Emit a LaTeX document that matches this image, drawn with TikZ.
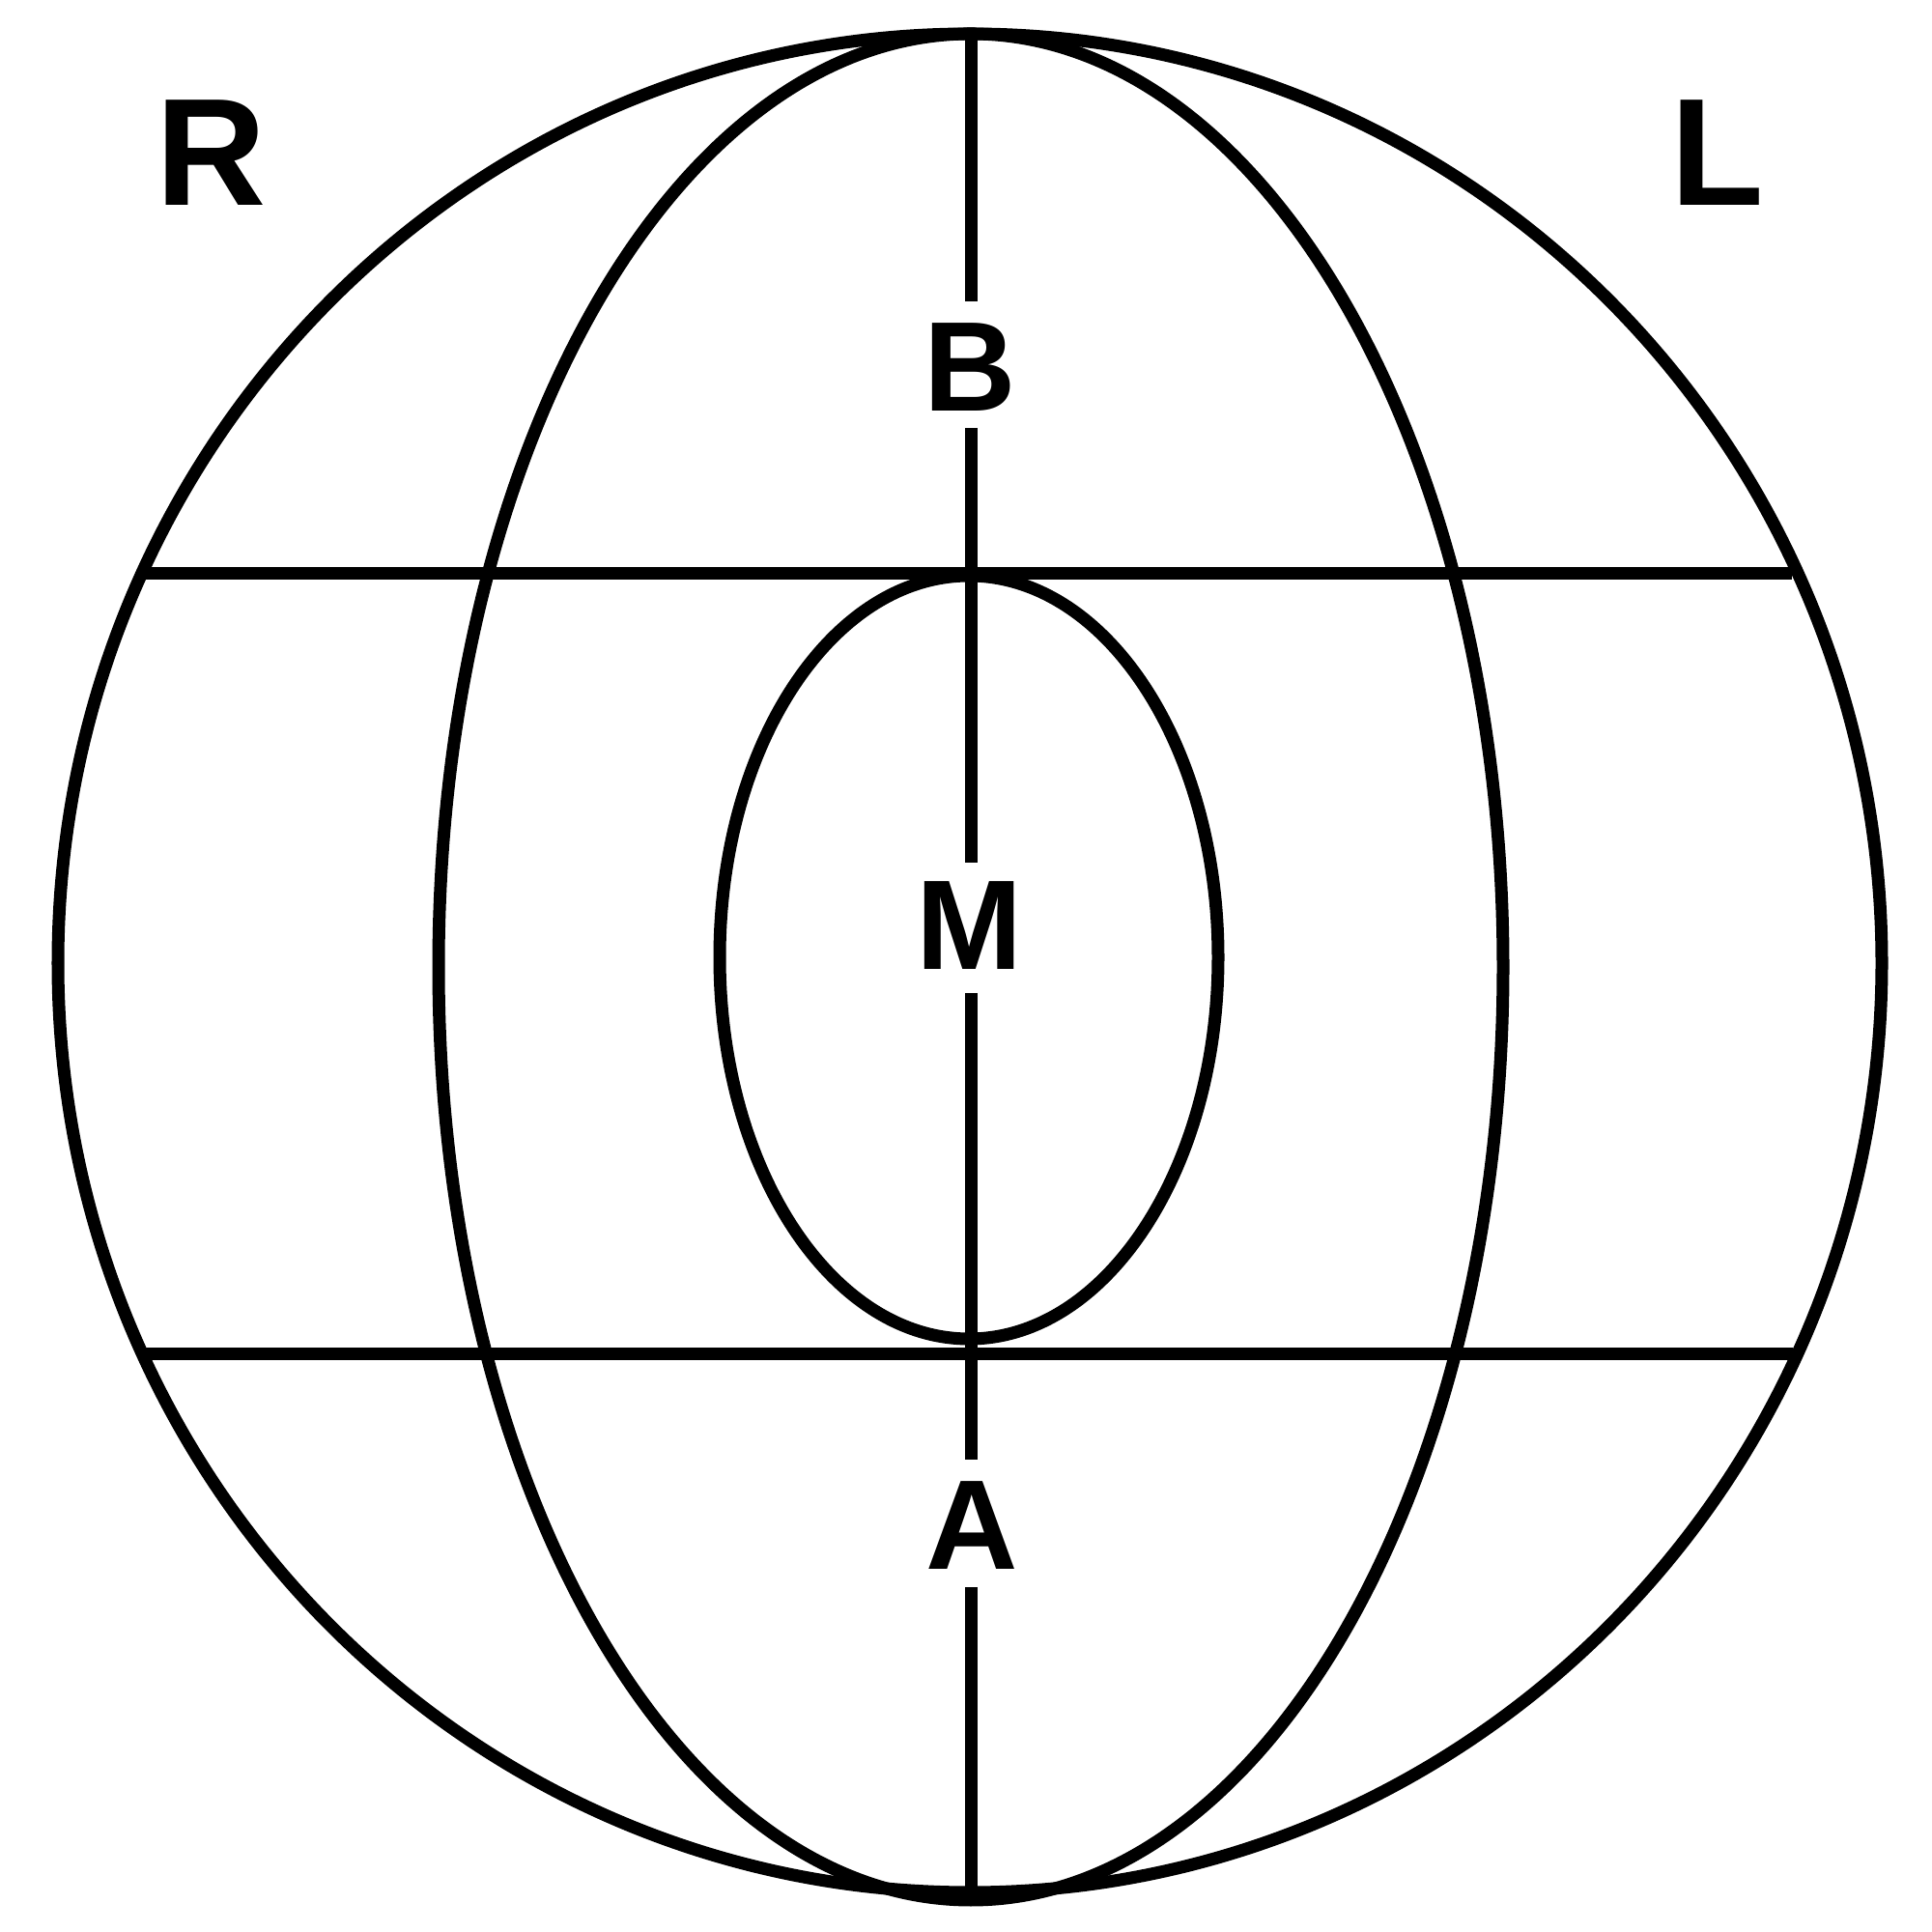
\documentclass[tikz,border=0pt]{standalone}
\usepackage{fontspec}
\setmainfont{Liberation Sans}
\tikzset{
  ln/.style={line width=3.7pt, draw=black},
  biglab/.style={inner sep=0pt, font=\bfseries\fontsize{45}{48}\selectfont},
  lab/.style={inner sep=0pt, font=\bfseries\fontsize{37.6}{40}\selectfont}
}
\begin{document}
\begin{tikzpicture}
\useasboundingbox (0,0) rectangle (20,20);
% shapes
\draw[ln] (10.04,10.03) ellipse [x radius=9.44, y radius=9.62];
\draw[ln] (10.05,9.99) ellipse [x radius=5.51, y radius=9.66];
\draw[ln] (10.03,10.09) ellipse [x radius=2.58, y radius=3.95];
% horizontal lines
\coordinate (h1l) at (1.43,14.06);
\coordinate (h1r) at (18.55,14.06);
\coordinate (h2l) at (1.50,5.98);
\coordinate (h2r) at (18.56,5.98);
\draw[ln] (h1l) -- (h1r);
\draw[ln] (h2l) -- (h2r);
% labels
\node[biglab] (R) at (2.19,18.42) {R};
\node[biglab] (L) at (17.78,18.42) {L};
\node[lab] (B) at (10.04,16.20) {B};
\node[lab] (M) at (10.04,10.42) {M};
\node[lab] (A) at (10.06,4.21) {A};
% vertical axis segments
\coordinate (v0) at (10.05,19.62);
\coordinate (v1) at (10.05,16.88);
\coordinate (v2) at (10.05,15.57);
\coordinate (v3) at (10.05,11.07);
\coordinate (v4) at (10.05,9.72);
\coordinate (v5) at (10.05,4.89);
\coordinate (v6) at (10.05,3.57);
\coordinate (v7) at (10.05,0.45);
\draw[ln] (v0) -- (v1);
\draw[ln] (v2) -- (v3);
\draw[ln] (v4) -- (v5);
\draw[ln] (v6) -- (v7);
\end{tikzpicture}
\end{document}
